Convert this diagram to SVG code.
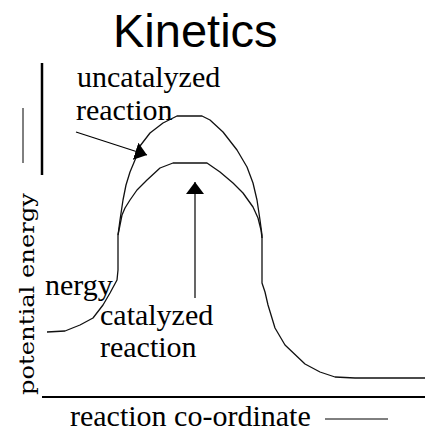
<svg xmlns="http://www.w3.org/2000/svg" width="425" height="432" viewBox="0 0 425 432">
<style>
.lbl{font-family:"Liberation Serif","Times New Roman",serif;font-size:30px;fill:#000}
.ttl{font-family:"Liberation Sans",Arial,sans-serif;font-size:47px;fill:#000}
.ax{font-family:"DejaVu Serif","Liberation Serif",serif;font-size:21px;fill:#000}
.crv{fill:none;stroke:#111;stroke-width:1.3;stroke-linejoin:round}
.con{fill:none;stroke:#000;stroke-width:1.2}
</style>
<defs>
<marker id="ah" viewBox="0 0 12 18" refX="12" refY="9" markerWidth="12" markerHeight="18" markerUnits="userSpaceOnUse" orient="auto">
<path d="M0,0 L12,9 L0,18 Z" fill="#000"/>
</marker>
</defs>
<rect width="425" height="432" fill="#fff"/>
<g id="title"><text class="ttl" x="113" y="47">Kinetics</text></g>
<g id="axes">
<line x1="42" y1="63" x2="42" y2="175" stroke="#000" stroke-width="2.5"/>
<line x1="23" y1="108" x2="23" y2="163" stroke="#000" stroke-width="1"/>
<line x1="42" y1="397" x2="425" y2="397" stroke="#000" stroke-width="2.2"/>
<line x1="325" y1="419" x2="388" y2="419" stroke="#000" stroke-width="1"/>
<text class="ax" transform="translate(34,395) rotate(-90)" x="0" y="0" textLength="202" lengthAdjust="spacingAndGlyphs">potential energy</text>
<text class="lbl" x="70" y="426">reaction co-ordinate</text>
</g>
<g id="uncatalyzed">
<path class="crv" d="M47,332 L65,331 L80,325 L93,318 L103,305 L110,293 L117,280 L118,270 L118,235 L120,220 L123,200 L126,185 L130,172 L135,160 L140,146 L150,133 L163,123 L177,116 L202,116 L210,120 L223,132 L237,150 L247,167 L253,183 L257,200 L260,220 L262,235 L262,283 L265,292 L268,305 L275,328 L285,345 L305,364 L320,372 L335,377 L355,378 L425,378"/>
<text class="lbl" x="77" y="87">uncatalyzed</text>
<text class="lbl" x="76" y="120">reaction</text>
</g>
<g id="catalyzed">
<path class="crv" d="M118,235 L120,225 L122,215 L125,208 L130,200 L137,190 L147,180 L160,168 L173,163 L207,163 L220,172 L233,183 L243,193 L253,207 L258,218 L261,230 L262,238"/>
<text class="lbl" x="100" y="325">catalyzed</text>
<text class="lbl" x="100" y="357">reaction</text>
</g>
<g id="nergy"><text class="lbl" x="45" y="295">nergy</text></g>
<g id="connectors">
<line class="con" x1="76" y1="132" x2="147" y2="155" marker-end="url(#ah)"/>
<line class="con" x1="195" y1="298" x2="195" y2="182" marker-end="url(#ah)"/>
</g>
</svg>
